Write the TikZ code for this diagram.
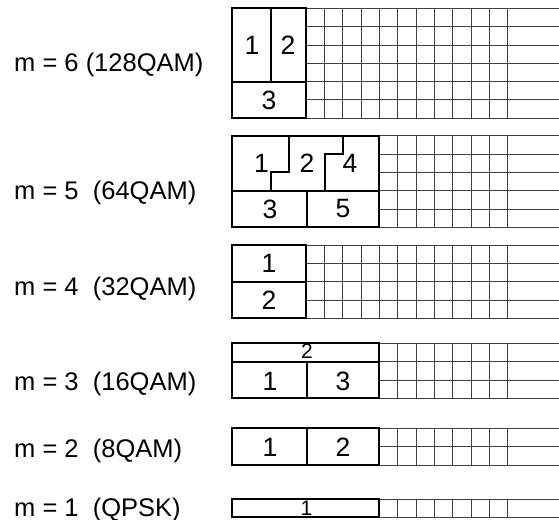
\documentclass[tikz,border=0pt]{standalone}
\usepackage{fontspec}
\setmainfont{Liberation Sans}
\newcommand\gridblock[3]{%
  \foreach \i in {0,...,#2}
    \draw[gridline] ({306+18.33*(#3-1)},{#1+18.33*\i}) -- (559,{#1+18.33*\i});
  \foreach \k in {#3,...,11}
    \draw[gridline] ({306+18.33*\k},#1) -- ({306+18.33*\k},{#1+18.33*#2});
}
\begin{document}
\begin{tikzpicture}[x=1bp,y=-1bp,
  gridline/.style={line width=0.9bp, black!75},
  boxline/.style={line width=2bp, black, line join=miter},
  lab/.style={font=\fontsize{25.5bp}{30bp}\selectfont, anchor=base west, inner sep=0pt},
  num/.style={font=\fontsize{26.5bp}{30bp}\selectfont, inner sep=0pt},
  smallnum/.style={font=\fontsize{21bp}{24bp}\selectfont, inner sep=0pt}]
\useasboundingbox (0,0) rectangle (559,520);

% ---------- grids ----------
\gridblock{8.3}{6}{1}
\gridblock{135.7}{5}{5}
\gridblock{245}{4}{1}
\gridblock{343.3}{3}{5}
\gridblock{428.3}{2}{5}
\gridblock{499}{1}{5}

% ---------- left labels ----------
\node[lab] (l6) at (14,71.7) {m = 6 (128QAM)};
\node[lab] (l5) at (14,200) {m = 5\ \ (64QAM)};
\node[lab] (l4) at (14,295) {m = 4\ \ (32QAM)};
\node[lab] (l3) at (14,390) {m = 3\ \ (16QAM)};
\node[lab] (l2) at (14,457.7) {m = 2\ \ (8QAM)};
\node[lab] (l1) at (14,516) {m = 1\ \ (QPSK)};

% ---------- m = 6 ----------
\draw[boxline] (232,8.3) rectangle (306,118.3);
\draw[boxline] (232,81.6) -- (306,81.6);
\draw[boxline] (270.5,8.3) -- (270.5,81.6);
\node[num] (a1) at (252,45) {1};
\node[num] (a2) at (288,45) {2};
\node[num] (a3) at (269,100) {3};

% ---------- m = 5 ----------
\draw[boxline] (232,135.7) rectangle (379.3,227.4);
\draw[boxline] (232,190.7) -- (379.3,190.7);
\draw[boxline] (306.5,190.7) -- (306.5,227.4);
\draw[boxline] (289.3,135.7) -- (289.3,172.4) -- (270.7,172.4) -- (270.7,190.7);
\draw[boxline] (342.7,135.7) -- (342.7,154) -- (325,154) -- (325,190.7);
\node[num] (b1) at (261.5,163) {1};
\node[num] (b2) at (307,163) {2};
\node[num] (b4) at (350,163) {4};
\node[num] (b3) at (270,209) {3};
\node[num] (b5) at (343,209) {5};

% ---------- m = 4 ----------
\draw[boxline] (232,245) rectangle (306,318.3);
\draw[boxline] (232,281.7) -- (306,281.7);
\node[num] (c1) at (269,263.3) {1};
\node[num] (c2) at (269,300) {2};

% ---------- m = 3 ----------
\draw[boxline] (232,343.3) rectangle (379.3,398.3);
\draw[boxline] (232,361.7) -- (379.3,361.7);
\draw[boxline] (306.5,361.7) -- (306.5,398.3);
\node[smallnum] (d2) at (307,351.5) {2};
\node[num] (d1) at (270,381) {1};
\node[num] (d3) at (343,381) {3};

% ---------- m = 2 ----------
\draw[boxline] (232,428.3) rectangle (379.3,465);
\draw[boxline] (306.5,428.3) -- (306.5,465);
\node[num] (e1) at (270,447) {1};
\node[num] (e2) at (343,447) {2};

% ---------- m = 1 ----------
\draw[boxline] (232,499) rectangle (379.3,517.3);
\node[smallnum] (f1) at (306.5,508) {1};
\end{tikzpicture}
\end{document}
